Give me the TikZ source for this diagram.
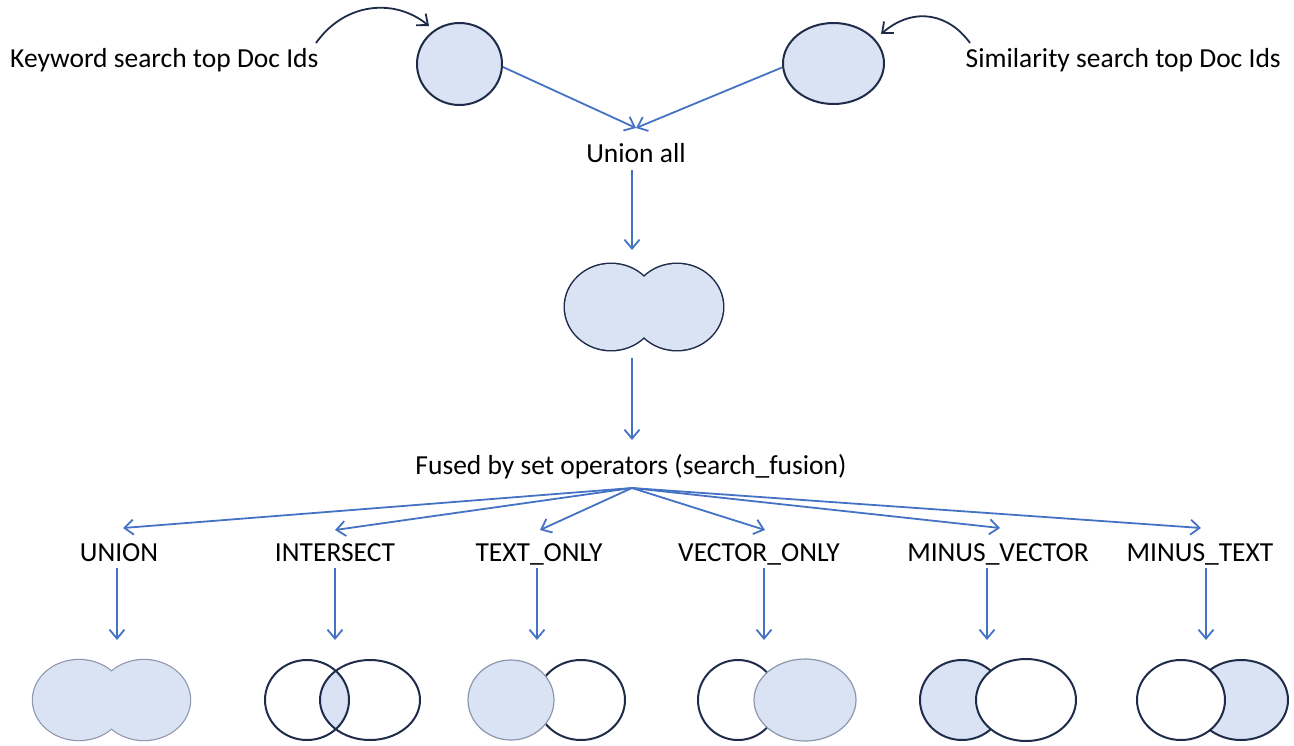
\documentclass[tikz,border=0pt]{standalone}
\usepackage{fontspec}
\setmainfont{Carlito}
\usetikzlibrary{arrows.meta,shapes.geometric}
\definecolor{fillb}{HTML}{DAE3F3}
\definecolor{navy}{HTML}{1F2B4A}
\definecolor{softb}{HTML}{8C97AE}
\definecolor{arrowb}{HTML}{4472C4}
\begin{document}
\begin{tikzpicture}[x=1pt,y=-1pt,
  lbl/.style={font=\fontsize{27.5}{32}\selectfont, inner sep=0pt, anchor=base},
  setnode/.style={ellipse, draw=navy, line width=2pt, fill=fillb, inner sep=0pt},
  bluearrow/.style={draw=arrowb, line width=1.8pt, -{Straight Barb[length=9pt,width=15pt]}},
  darkarrow/.style={draw=navy, line width=1.8pt, -{Straight Barb[length=9pt,width=15pt]}},
  outl/.style={draw=navy, line width=2pt},
  softl/.style={draw=softb, line width=1.2pt}]
\path[use as bounding box] (0,0) rectangle (1294,745);

% top inputs
\node[setnode, minimum width=85pt, minimum height=82pt] (kw) at (459.5,64) {};
\node[setnode, minimum width=101pt, minimum height=81pt] (sm) at (833.5,63.5) {};
\node[lbl, anchor=base west] (kwt) at (10,67) {Keyword search top Doc Ids};
\node[lbl, anchor=base east] (smt) at (1281,67) {Similarity search top Doc Ids};
\coordinate (kws) at (316,43);
\coordinate (kwe) at (429,26);
\coordinate (sms) at (970,43);
\coordinate (sme) at (881,34);
\draw[darkarrow] (kws) .. controls (345,2) and (395,-2) .. (kwe);
\draw[darkarrow] (sms) .. controls (950,15) and (915,5) .. (sme);

% union all
\node[lbl] (ua) at (636,162) {Union all};
\coordinate (uatip) at (636,128);
\draw[bluearrow] (kw.east) ++(0,3) -- (uatip);
\draw[bluearrow] (sm.west) ++(0,4) -- (uatip);
\coordinate (uab) at (632,170);
\coordinate (blobtip) at (632,250);
\draw[bluearrow] (uab) -- (blobtip);

% union blob (top)
\draw[navy, line width=3pt] (611,307) ellipse [x radius=46pt, y radius=43pt];
\draw[navy, line width=3pt] (677,307) ellipse [x radius=46pt, y radius=43pt];
\fill[fillb] (611,307) ellipse [x radius=46pt, y radius=43pt];
\fill[fillb] (677,307) ellipse [x radius=46pt, y radius=43pt];
\coordinate (blobb) at (632,358);
\coordinate (fusetip) at (632,440);
\draw[bluearrow] (blobb) -- (fusetip);

% fused
\node[lbl] (fu) at (631,474) {Fused by set operators (search\_fusion)};
\coordinate (fo) at (632,488);

% operator labels
\node[lbl] (l1) at (119,561) {UNION};
\node[lbl] (l2) at (335,561) {INTERSECT};
\node[lbl] (l3) at (539,561) {TEXT\_ONLY};
\node[lbl] (l4) at (759,561) {VECTOR\_ONLY};
\node[lbl] (l5) at (998,561) {MINUS\_VECTOR};
\node[lbl] (l6) at (1200,561) {MINUS\_TEXT};

\coordinate (t1) at (123,528);
\coordinate (t2) at (335,530);
\coordinate (t3) at (540,530);
\coordinate (t4) at (765,530);
\coordinate (t5) at (1000,528);
\coordinate (t6) at (1201,528);
\foreach \t in {t1,t2,t3,t4,t5,t6} \draw[bluearrow] (fo) -- (\t);

\coordinate (a1) at (117,568); \coordinate (b1) at (117,640);
\coordinate (a2) at (335,568); \coordinate (b2) at (335,640);
\coordinate (a3) at (537,568); \coordinate (b3) at (537,640);
\coordinate (a4) at (764,568); \coordinate (b4) at (764,640);
\coordinate (a5) at (987,568); \coordinate (b5) at (987,640);
\coordinate (a6) at (1206,568); \coordinate (b6) at (1206,640);
\foreach \i in {1,...,6} \draw[bluearrow] (a\i) -- (b\i);

% UNION
\draw[softb, line width=2.4pt] (79,700) ellipse [x radius=46pt, y radius=40pt];
\draw[softb, line width=2.4pt] (144,700) ellipse [x radius=46pt, y radius=40pt];
\fill[fillb] (79,700) ellipse [x radius=46pt, y radius=40pt];
\fill[fillb] (144,700) ellipse [x radius=46pt, y radius=40pt];

% INTERSECT
\begin{scope}
  \clip (307,700) ellipse [x radius=42pt, y radius=40pt];
  \fill[fillb] (370,700) ellipse [x radius=50pt, y radius=40pt];
\end{scope}
\draw[outl] (307,700) ellipse [x radius=42pt, y radius=40pt];
\draw[outl] (370,700) ellipse [x radius=50pt, y radius=40pt];

% TEXT_ONLY
\draw[outl] (581,700) ellipse [x radius=44pt, y radius=40pt];
\filldraw[fill=fillb, softl] (511,700) ellipse [x radius=43pt, y radius=40pt];

% VECTOR_ONLY
\draw[outl] (738,700) ellipse [x radius=40pt, y radius=40pt];
\filldraw[fill=fillb, softl] (805,700) ellipse [x radius=51pt, y radius=41pt];

% MINUS_VECTOR
\filldraw[fill=fillb, outl] (962,700) ellipse [x radius=42pt, y radius=40pt];
\filldraw[fill=white, outl] (1026,700) ellipse [x radius=50pt, y radius=41pt];

% MINUS_TEXT
\filldraw[fill=fillb, outl] (1241,700) ellipse [x radius=47pt, y radius=40pt];
\filldraw[fill=white, outl] (1181,700) ellipse [x radius=44pt, y radius=40pt];
\end{tikzpicture}
\end{document}
